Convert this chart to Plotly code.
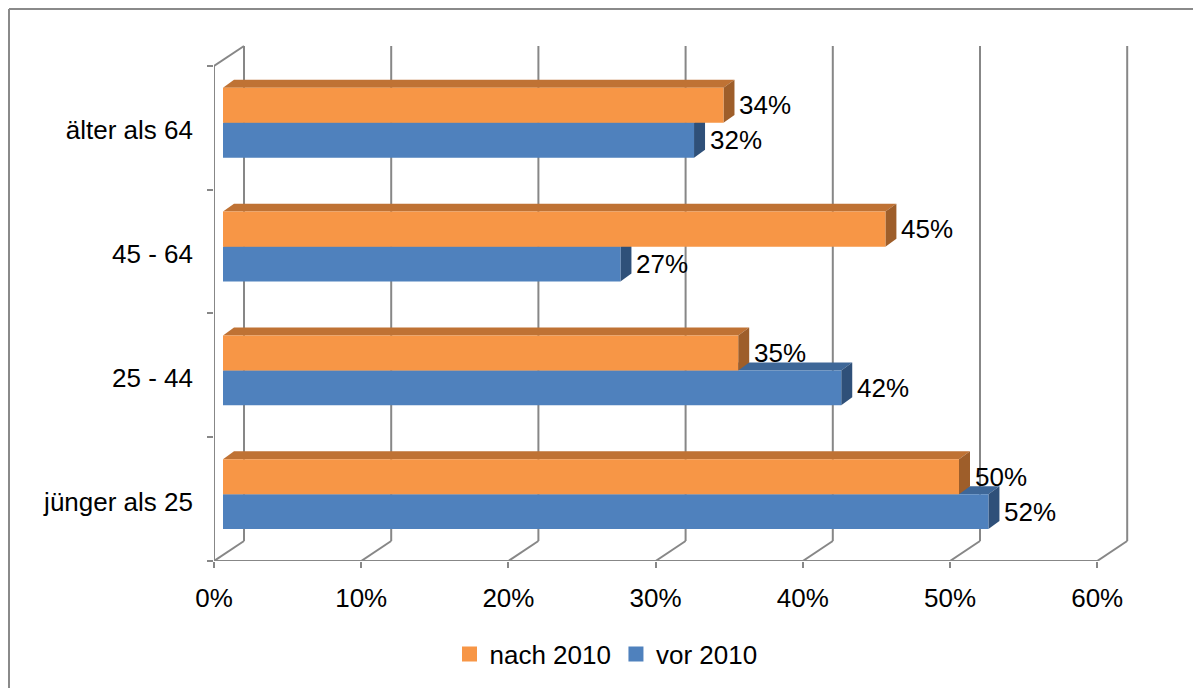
import plotly.graph_objects as go

# ---------------- data ----------------
categories = ["jünger als 25", "25 - 44", "45 - 64", "älter als 64"]
vor_2010 = [52, 42, 27, 32]
nach_2010 = [50, 35, 45, 34]
x_ticks = [0, 10, 20, 30, 40, 50, 60]
series_names = ["nach 2010", "vor 2010"]

# ---------------- geometry / style ----------------
OFF = 8                               # page body margin of the html
W, H = 1201 - OFF, 688 - OFF
ML, MR, MB = 214 - OFF, 67, 126
XMAX, YMAX = 62.5, 4.25
PPX = (W - ML - MR) / XMAX
PPY = 124
MT = H - MB - int(round(YMAX * PPY))

wall_dx, wall_dy = 30 / PPX, 20 / PPY
bar_x0 = 9 / PPX
bar_dx, bar_dy = 11 / PPX, 8 / PPY
blue_lo, blue_hi = 0.258, 0.540
orange_lo, orange_hi = 0.540, 0.823

GRID = "#878787"
FONT = "Liberation Sans, Arial, sans-serif"
FS = 26

col = {
    "vor": dict(front="#4F81BD", top="#3E6798", side="#2F5079"),
    "nach": dict(front="#F79646", top="#BF7234", side="#9E5E2A"),
}

def polys(values, lo, hi):
    fx, fy, tx, ty, sx, sy = [], [], [], [], [], []
    for i, v in enumerate(values):
        x0, x1 = bar_x0, bar_x0 + v
        y0, y1 = i + lo, i + hi
        fx += [x0, x1, x1, x0, x0, None]
        fy += [y0, y0, y1, y1, y0, None]
        tx += [x0, x1, x1 + bar_dx, x0 + bar_dx, x0, None]
        ty += [y1, y1, y1 + bar_dy, y1 + bar_dy, y1, None]
        sx += [x1, x1 + bar_dx, x1 + bar_dx, x1, x1, None]
        sy += [y0, y0 + bar_dy, y1 + bar_dy, y1, y0, None]
    return (fx, fy), (tx, ty), (sx, sy)

fig = go.Figure()

def add_series(values, lo, hi, c):
    f, t, s = polys(values, lo, hi)
    for (xx, yy), colr in ((t, c["top"]), (s, c["side"]), (f, c["front"])):
        fig.add_trace(go.Scatter(x=xx, y=yy, mode="lines", fill="toself",
                                 fillcolor=colr, line=dict(width=0, color=colr),
                                 hoverinfo="skip", showlegend=False))

add_series(vor_2010, blue_lo, blue_hi, col["vor"])
add_series(nach_2010, orange_lo, orange_hi, col["nach"])

for name, c in zip(series_names, [col["nach"], col["vor"]]):
    fig.add_trace(go.Scatter(x=[None], y=[None], mode="markers", name=name,
                             marker=dict(symbol="square", size=15, color=c["front"])))

annotations = []
for values, lo, hi in ((vor_2010, blue_lo, blue_hi), (nach_2010, orange_lo, orange_hi)):
    for i, v in enumerate(values):
        annotations.append(dict(x=bar_x0 + v + bar_dx, y=i + (lo + hi) / 2,
                                text=f"{v}%", showarrow=False, xanchor="left",
                                yanchor="middle", xshift=3,
                                font=dict(size=FS, color="black", family=FONT)))

shapes = []
ncat = len(categories)
top = ncat + wall_dy
for t in x_ticks:
    shapes.append(dict(type="line", x0=t, y0=0, x1=t + wall_dx, y1=wall_dy,
                       line=dict(color=GRID, width=2), layer="below"))
    shapes.append(dict(type="line", x0=t + wall_dx, y0=wall_dy, x1=t + wall_dx, y1=top,
                       line=dict(color=GRID, width=2), layer="below"))
shapes.append(dict(type="line", x0=0, y0=0, x1=x_ticks[-1], y1=0,
                   line=dict(color=GRID, width=2), layer="below"))
shapes.append(dict(type="line", x0=0, y0=0, x1=0, y1=ncat,
                   line=dict(color=GRID, width=2), layer="below"))
shapes.append(dict(type="line", x0=0, y0=ncat, x1=wall_dx, y1=top,
                   line=dict(color=GRID, width=2), layer="below"))

# outer frame (reference pixel coordinates -> paper)
def px2paper_x(px):
    return (px - OFF - ML) / (W - ML - MR)
def px2paper_y(py):
    return (H - MB - (py - OFF)) / (H - MB - MT)
shapes.append(dict(type="line", xref="paper", yref="paper",
                   x0=px2paper_x(9), y0=px2paper_y(9), x1=px2paper_x(1210), y1=px2paper_y(9),
                   line=dict(color="#8A8A8A", width=2)))
shapes.append(dict(type="line", xref="paper", yref="paper",
                   x0=px2paper_x(9), y0=px2paper_y(9), x1=px2paper_x(9), y1=px2paper_y(700),
                   line=dict(color="#8A8A8A", width=2)))

fig.update_layout(
    width=W, height=H,
    margin=dict(l=ML, r=MR, t=MT, b=MB),
    paper_bgcolor="white", plot_bgcolor="white",
    font=dict(family=FONT, size=FS, color="black"),
    shapes=shapes, annotations=annotations,
    showlegend=True,
    legend=dict(orientation="h", x=px2paper_x(606), y=px2paper_y(654),
                xanchor="center", yanchor="middle", font=dict(size=FS),
                traceorder="normal"),
    xaxis=dict(range=[0, XMAX], tickvals=x_ticks, ticktext=[f"{t}%" for t in x_ticks],
               showgrid=False, zeroline=False, showline=False,
               ticks="outside", ticklen=6, tickwidth=2, tickcolor=GRID,
               ticklabelstandoff=8, fixedrange=True),
    yaxis=dict(range=[0, YMAX], tickvals=[i + 0.48 for i in range(ncat)], ticktext=categories,
               showgrid=False, zeroline=False, showline=False, ticks="",
               minor=dict(tickmode="array", tickvals=list(range(ncat + 1)), ticks="outside",
                          ticklen=6, tickwidth=2, tickcolor=GRID),
               ticklabelstandoff=20, fixedrange=True),
)

fig.write_html("out.html")
